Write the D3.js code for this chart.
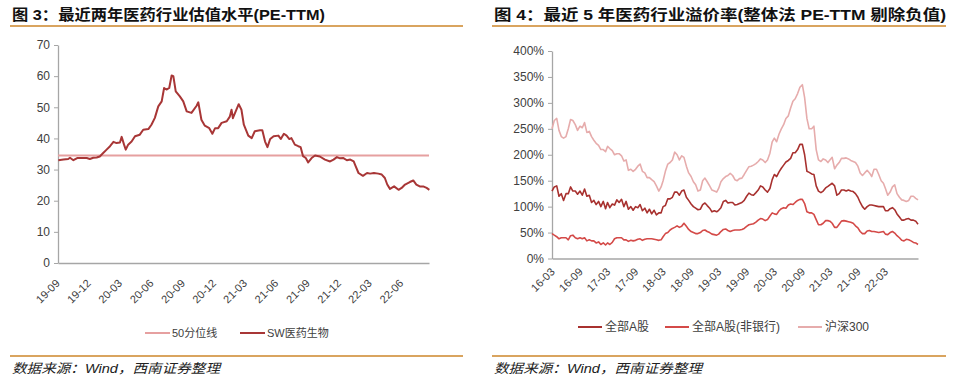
<!DOCTYPE html>
<html>
<head>
<meta charset="utf-8">
<script src="https://cdn.jsdelivr.net/npm/d3@7"></script>
<style>
body { margin: 0; background: #fff; }
svg { font-family: "Liberation Sans", "Noto Sans CJK SC", sans-serif; }
</style>
</head>
<body>
<div id="container"></div>
<script>
// fig 3: SW pharma PE-TTM
var peDates = ["2019-09-02","2019-09-17","2019-10-01","2019-10-06","2019-10-16","2019-10-27","2019-11-09","2019-11-24",
  "2019-12-03","2019-12-13","2019-12-23","2020-01-01","2020-01-11","2020-01-21","2020-01-31","2020-02-10","2020-02-19",
  "2020-02-29","2020-03-05","2020-03-12","2020-03-17","2020-03-24","2020-04-03","2020-04-13","2020-04-27","2020-05-07",
  "2020-05-22","2020-05-31","2020-06-10","2020-06-20","2020-06-30","2020-07-07","2020-07-14","2020-07-22","2020-07-29",
  "2020-08-03","2020-08-10","2020-08-22","2020-09-01","2020-09-11","2020-09-25","2020-10-10","2020-10-15","2020-10-24",
  "2020-11-03","2020-11-16","2020-11-25","2020-12-03","2020-12-12","2020-12-22","2021-01-06","2021-01-15","2021-01-20",
  "2021-01-24","2021-02-03","2021-02-10","2021-02-18","2021-02-25","2021-03-10","2021-03-20","2021-03-29","2021-04-13",
  "2021-04-20","2021-04-28","2021-05-05","2021-05-13","2021-05-23","2021-06-06","2021-06-13","2021-06-22","2021-06-30",
  "2021-07-08","2021-07-14","2021-07-24","2021-08-03","2021-08-10","2021-08-17","2021-08-25","2021-09-01","2021-09-11",
  "2021-09-21","2021-10-05","2021-10-20","2021-11-04","2021-11-14","2021-11-24","2021-12-03","2021-12-13","2021-12-23",
  "2022-01-02","2022-01-12","2022-01-17","2022-01-26","2022-02-08","2022-02-20","2022-03-01","2022-03-12","2022-03-25",
  "2022-04-04","2022-04-13","2022-04-20","2022-04-28","2022-05-10","2022-05-23","2022-06-01","2022-06-11","2022-06-25",
  "2022-07-05","2022-07-14","2022-07-24","2022-08-03","2022-08-13","2022-08-21"];
var peValues = [33.0,33.2,33.4,33.8,33.0,33.7,33.7,33.7,
  33.4,33.8,33.9,34.2,35.3,36.4,37.5,38.9,38.5,
  38.7,40.5,38.0,36.4,38.0,39.0,40.7,41.2,42.8,
  43.0,44.4,46.6,50.3,51.9,56.2,55.7,56.2,60.2,
  60.0,55.1,53.5,51.9,48.7,48.2,50.5,51.6,46.0,
  44.1,43.3,41.5,43.3,43.3,45.0,45.5,47.0,49.2,
  46.5,49.2,51.0,49.2,44.4,40.9,40.1,42.3,42.6,
  42.6,39.0,37.2,39.8,40.7,40.9,39.8,41.5,40.9,
  39.8,40.1,38.0,37.5,37.2,34.3,33.7,32.3,33.7,
  34.5,34.2,33.2,32.6,33.2,34.0,33.6,33.7,33.0,
  33.2,32.6,31.3,28.9,28.0,28.9,28.7,28.9,28.7,
  28.4,27.3,25.2,23.8,24.6,23.5,24.1,25.2,26.0,
  26.5,25.2,24.6,24.6,24.1,23.5];
var peMedian = 34.5;
var peTicks = ["19-09","19-12","20-03","20-06","20-09","20-12","21-03","21-06","21-09","21-12","22-03","22-06"];
var peYTicks = [0, 10, 20, 30, 40, 50, 60, 70];

// fig 4: premium (%), twice a month
var premDates = [
  "2016-03-01","2016-03-16","2016-04-01","2016-04-16","2016-05-01","2016-05-16","2016-06-01","2016-06-16","2016-07-01","2016-07-16",
  "2016-08-01","2016-08-16","2016-09-01","2016-09-16","2016-10-01","2016-10-16","2016-11-01","2016-11-16","2016-12-01","2016-12-16",
  "2017-01-01","2017-01-16","2017-02-01","2017-02-16","2017-03-01","2017-03-16","2017-04-01","2017-04-16","2017-05-01","2017-05-16",
  "2017-06-01","2017-06-16","2017-07-01","2017-07-16","2017-08-01","2017-08-16","2017-09-01","2017-09-16","2017-10-01","2017-10-16",
  "2017-11-01","2017-11-16","2017-12-01","2017-12-16","2018-01-01","2018-01-16","2018-02-01","2018-02-16","2018-03-01","2018-03-16",
  "2018-04-01","2018-04-16","2018-05-01","2018-05-16","2018-06-01","2018-06-16","2018-07-01","2018-07-16","2018-08-01","2018-08-16",
  "2018-09-01","2018-09-16","2018-10-01","2018-10-16","2018-11-01","2018-11-16","2018-12-01","2018-12-16","2019-01-01","2019-01-16",
  "2019-02-01","2019-02-16","2019-03-01","2019-03-16","2019-04-01","2019-04-16","2019-05-01","2019-05-16","2019-06-01","2019-06-16",
  "2019-07-01","2019-07-16","2019-08-01","2019-08-16","2019-09-01","2019-09-16","2019-10-01","2019-10-16","2019-11-01","2019-11-16",
  "2019-12-01","2019-12-16","2020-01-01","2020-01-16","2020-02-01","2020-02-16","2020-03-01","2020-03-16","2020-04-01","2020-04-16",
  "2020-05-01","2020-05-16","2020-06-01","2020-06-16","2020-07-01","2020-07-16","2020-08-01","2020-08-16","2020-09-01","2020-09-16",
  "2020-10-01","2020-10-16","2020-11-01","2020-11-16","2020-12-01","2020-12-16","2021-01-01","2021-01-16","2021-02-01","2021-02-16",
  "2021-03-01","2021-03-16","2021-04-01","2021-04-16","2021-05-01","2021-05-16","2021-06-01","2021-06-16","2021-07-01","2021-07-16",
  "2021-08-01","2021-08-16","2021-09-01","2021-09-16","2021-10-01","2021-10-16","2021-11-01","2021-11-16","2021-12-01","2021-12-16",
  "2022-01-01","2022-01-16","2022-02-01","2022-02-16","2022-03-01","2022-03-16","2022-04-01","2022-04-16","2022-05-01","2022-05-16",
  "2022-06-01","2022-06-16","2022-07-01","2022-07-16","2022-08-01","2022-08-16","2022-09-01","2022-09-16","2022-10-01"];
var allA = [
  130,138,140,120,125,112,125,125,138,130, 130,124,130,122,134,120,122,108,112,104,
  110,100,110,96,108,98,105,103,113,108, 114,100,110,95,100,93,100,98,104,92,
  97,88,95,86,93,84,88,88,100,102, 115,115,118,128,128,122,130,132,118,112,
  105,100,97,94,95,104,107,102,97,90, 92,90,93,98,110,112,107,108,108,103,
  104,106,108,112,120,126,123,122,127,132, 140,138,132,128,135,152,162,158,167,174,
  180,186,189,193,204,204,210,220,220,200, 168,166,163,162,140,130,127,130,136,139,
  142,145,140,122,125,132,132,130,132,130, 129,125,118,108,100,95,100,103,103,102,
  101,100,100,100,92,92,96,98,94,86, 80,74,74,76,77,74,74,72,66];
var allAexBank = [
  48,45,42,38,40,40,40,36,44,45, 40,38,40,38,40,34,36,34,34,30,
  32,27,30,26,30,27,31,38,40,40, 40,36,36,33,35,34,35,37,38,35,
  37,38,38,38,37,36,35,36,42,48, 50,55,58,60,63,60,62,68,62,56,
  52,50,48,48,50,54,55,52,50,47, 46,45,47,52,56,57,54,52,54,55,
  55,55,56,58,62,65,66,67,70,74, 77,76,73,75,82,88,86,85,92,96,
  98,97,103,105,104,108,112,114,114,106, 90,88,88,85,75,65,65,68,73,73,
  72,68,60,60,66,72,73,72,71,70, 68,63,59,52,48,48,53,54,52,52,
  51,50,51,52,47,46,50,52,49,44, 40,35,34,37,36,34,31,30,27];
var hs300 = [
  250,266,270,247,235,232,235,250,268,266, 258,247,255,252,262,243,245,235,228,222,
  218,210,210,206,216,212,208,200,202,202, 198,188,190,170,172,168,172,178,182,168,
  165,156,156,152,148,140,130,138,150,168, 182,185,190,205,200,190,198,195,178,165,
  158,148,142,130,132,150,155,148,140,132, 130,128,135,148,154,158,160,164,160,152,
  150,154,155,162,170,177,178,180,183,187, 192,190,185,190,203,225,232,225,240,250,
  258,270,275,290,303,308,318,330,335,310, 270,250,250,255,210,190,187,192,190,185,
  190,195,173,180,185,193,193,194,192,189, 187,185,178,165,160,165,170,165,158,172,
  172,162,150,145,135,122,128,138,142,125, 118,113,112,110,112,120,120,116,113];
var premTicks = ["16-03","16-09","17-03","17-09","18-03","18-09","19-03","19-09","20-03","20-09","21-03","21-09","22-03"];
var premYTicks = [0, 50, 100, 150, 200, 250, 300, 350, 400];

var axisColor = "#a6a6a6",
    textColor = "#404040",
    ruleColor = "#d9a45f";

var parseDay = d3.timeParse("%Y-%m-%d"),
    parseTick = d3.timeParse("%y-%m");

var svg = d3.select("#container").append("svg")
    .attr("width", 956)
    .attr("height", 381);

// titles, rules, footers
var panels = [
  { x0: 10, x1: 463, title: "图 3：最近两年医药行业估值水平(PE-TTM)", titleLen: 313 },
  { x0: 492, x1: 946, title: "图 4：最近 5 年医药行业溢价率(整体法 PE-TTM 剔除负值)", titleLen: 452 }
];

panels.forEach(function(p) {
  svg.append("text")
     .attr("x", p.x0 + 2)
     .attr("y", 20)
     .attr("font-size", 15)
     .attr("font-weight", "bold")
     .attr("fill", "#111")
     .attr("textLength", p.titleLen)
     .attr("lengthAdjust", "spacingAndGlyphs")
     .text(p.title);
  svg.append("line")
     .attr("x1", p.x0).attr("x2", p.x1)
     .attr("y1", 26).attr("y2", 26)
     .attr("stroke", ruleColor).attr("stroke-width", 2);
  svg.append("line")
     .attr("x1", p.x0).attr("x2", p.x1)
     .attr("y1", 356).attr("y2", 356)
     .attr("stroke", ruleColor).attr("stroke-width", 2);
  svg.append("text")
     .attr("x", p.x0 + 2)
     .attr("y", 373)
     .attr("font-size", 13)
     .attr("font-style", "italic")
     .attr("fill", "#222")
     .attr("textLength", 208)
     .attr("lengthAdjust", "spacingAndGlyphs")
     .text("数据来源：Wind，西南证券整理");
});

function styleAxis(g) {
  g.select(".domain").attr("stroke", axisColor).attr("stroke-width", 1.3);
  g.selectAll(".tick line").attr("stroke", axisColor);
  g.selectAll(".tick text").attr("fill", textColor).attr("font-size", 12);
}

// ---------- left chart ----------
var x1 = d3.scaleTime()
    .domain([new Date(2019, 8, 1), new Date(2022, 7, 20)])
    .range([58, 429]);
var y1 = d3.scaleLinear()
    .domain([0, 70])
    .range([263, 45]);

var left = svg.append("g");

left.append("g")
    .attr("transform", "translate(58,0)")
    .call(d3.axisLeft(y1).tickValues(peYTicks).tickSize(4).tickSizeOuter(0).tickPadding(4))
    .call(styleAxis);

var xAxis1 = left.append("g")
    .attr("transform", "translate(0,263)")
    .call(d3.axisBottom(x1).tickValues(peTicks.map(parseTick)).tickSize(0).tickSizeOuter(0)
      .tickFormat(d3.timeFormat("%y-%m")))
    .call(styleAxis);
xAxis1.selectAll(".tick text")
    .attr("font-size", 11)
    .attr("text-anchor", "end")
    .attr("dy", 0)
    .attr("transform", "translate(2,21) rotate(-45)")
    .attr("y", 0);

var peRows = peDates.map(function(d, i) { return { date: parseDay(d), v: peValues[i] } });

left.append("line")
    .attr("x1", 58).attr("x2", 429)
    .attr("y1", y1(peMedian)).attr("y2", y1(peMedian))
    .attr("stroke", "#e6a0a0").attr("stroke-width", 2);

left.append("path")
    .datum(peRows)
    .attr("fill", "none")
    .attr("stroke", "#a83636")
    .attr("stroke-width", 2)
    .attr("stroke-linejoin", "round")
    .attr("d", d3.line().x(function(d) { return x1(d.date) }).y(function(d) { return y1(d.v) }));

var legend1 = [
  { name: "50分位线", color: "#e6a0a0", x: 145 },
  { name: "SW医药生物", color: "#a83636", x: 240 }
];
var lg1 = left.selectAll(".lg1").data(legend1).enter().append("g")
    .attr("transform", function(d) { return "translate(" + d.x + ",333)" });
lg1.append("line").attr("x1", 0).attr("x2", 25).attr("stroke", function(d) { return d.color }).attr("stroke-width", 2);
lg1.append("text").attr("x", 27).attr("dy", "0.35em").attr("font-size", 11).attr("fill", textColor)
    .text(function(d) { return d.name });

// ---------- right chart ----------
var x2 = d3.scaleTime()
    .domain([new Date(2016, 2, 1), new Date(2022, 9, 1)])
    .range([552, 918]);
var y2 = d3.scaleLinear()
    .domain([0, 400])
    .range([258.5, 51]);

var right = svg.append("g");

right.append("g")
    .attr("transform", "translate(552,0)")
    .call(d3.axisLeft(y2).tickValues(premYTicks).tickSize(4).tickSizeOuter(0).tickPadding(4)
      .tickFormat(function(d) { return d + "%" }))
    .call(styleAxis);

var xAxis2 = right.append("g")
    .attr("transform", "translate(0,258.5)")
    .call(d3.axisBottom(x2).tickValues(premTicks.map(parseTick)).tickSize(0).tickSizeOuter(0)
      .tickFormat(d3.timeFormat("%y-%m")))
    .call(styleAxis);
xAxis2.selectAll(".tick text")
    .attr("font-size", 11)
    .attr("text-anchor", "end")
    .attr("dy", 0)
    .attr("transform", "translate(3,14) rotate(-45)")
    .attr("y", 0);

var premRows = premDates.map(function(d, i) {
  return { date: parseDay(d), a: allA[i], b: allAexBank[i], c: hs300[i] }
});

var series = [
  { key: "a", name: "全部A股", color: "#a8312f", lx: 578 },
  { key: "b", name: "全部A股(非银行)", color: "#d44a48", lx: 665 },
  { key: "c", name: "沪深300", color: "#e6acac", lx: 798 }
];

series.slice().reverse().forEach(function(s) {
  right.append("path")
      .datum(premRows)
      .attr("fill", "none")
      .attr("stroke", s.color)
      .attr("stroke-width", 1.6)
      .attr("stroke-linejoin", "round")
      .attr("d", d3.line().x(function(d) { return x2(d.date) }).y(function(d) { return y2(d[s.key]) }));
});

var lg2 = right.selectAll(".lg2").data(series).enter().append("g")
    .attr("transform", function(d) { return "translate(" + d.lx + ",327)" });
lg2.append("line").attr("x1", 0).attr("x2", 24).attr("stroke", function(d) { return d.color }).attr("stroke-width", 2);
lg2.append("text").attr("x", 27).attr("dy", "0.35em").attr("font-size", 12).attr("fill", textColor)
    .text(function(d) { return d.name });
</script>
</body>
</html>
